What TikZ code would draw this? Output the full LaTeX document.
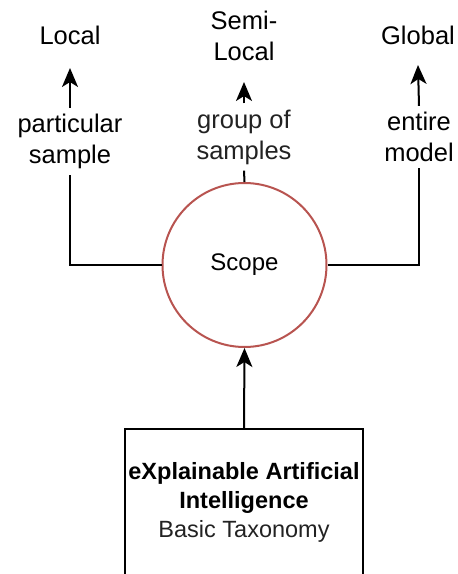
\documentclass[tikz,border=0pt]{standalone}
\usepackage{fontspec}
\setmainfont{Liberation Sans}
\usetikzlibrary{arrows.meta}
\definecolor{scopered}{HTML}{B85450}
\definecolor{subtext}{HTML}{222222}
\tikzset{
  txt/.style={font=\fontsize{25.5}{31}\selectfont, align=center, inner xsep=2pt},
  edgelabel/.style={txt, inner ysep=6pt},
  conn/.style={line width=2pt, draw=black},
  arr/.style={conn, -{Stealth[length=19pt, width=16pt, inset=5pt]}},
}
\begin{document}
\begin{tikzpicture}[x=1pt, y=-1pt]
  \clip (0,0) rectangle (458,574);

  % scope bubble and the taxonomy box below it
  \node[circle, draw=scopered, line width=2pt, minimum size=164pt, inner sep=0pt,
        font=\fontsize{24}{29}\selectfont] (scope) at (244.5,265) {Scope};
  \node[draw=black, line width=2pt, minimum width=238pt, minimum height=147pt,
        font=\fontsize{23.5}{29}\selectfont, align=center] (xai) at (244,502.5)
        {\textbf{eXplainable Artificial}\\\textbf{Intelligence}\\\textcolor{subtext}{Basic Taxonomy}};

  % the three scope levels
  \node[txt, anchor=south, inner ysep=23pt] (local) at (70,68) {Local};
  \node[txt, anchor=south, inner ysep=21pt] (semi) at (244,82) {Semi-\\Local};
  \node[txt, anchor=south, inner ysep=20pt] (global) at (418,65) {Global};

  % edge labels
  \node[edgelabel] (plabel) at (70,141.5) {particular\\sample};
  \node[edgelabel, text=subtext] (mlabel) at (244,137) {group of\\samples};
  \node[edgelabel] (rlabel) at (419,137) {entire\\model};

  % connectors
  \draw[arr] (xai.north) -- (scope.south);
  \draw[conn] (scope.west) -| (plabel.south);
  \draw[arr] (plabel.north) -- (local.south);
  \draw[conn] (scope.north) -- (mlabel.south);
  \draw[arr] (mlabel.north) -- (semi.south);
  \draw[conn] (scope.east) -| (rlabel.south);
  \draw[arr] (rlabel.north) -- (global.south);
\end{tikzpicture}
\end{document}
